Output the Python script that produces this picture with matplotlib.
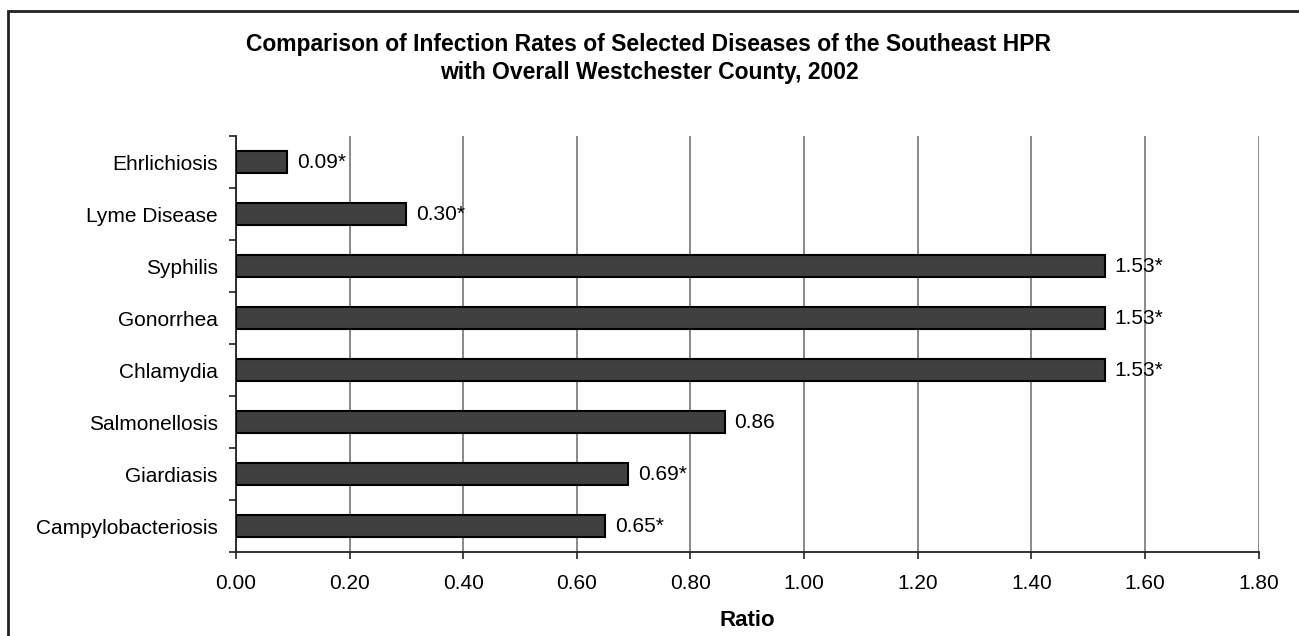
import matplotlib
matplotlib.use("Agg")
import matplotlib.pyplot as plt
from matplotlib.patches import Rectangle

plt.rcParams['font.family'] = ['Liberation Sans', 'DejaVu Sans']

# data, bottom to top
diseases = ["Campylobacteriosis", "Giardiasis", "Salmonellosis", "Chlamydia",
            "Gonorrhea", "Syphilis", "Lyme Disease", "Ehrlichiosis"]
ratios = [0.65, 0.69, 0.86, 1.53, 1.53, 1.53, 0.30, 0.09]
labels = ["0.65*", "0.69*", "0.86", "1.53*", "1.53*", "1.53*", "0.30*", "0.09*"]
xticks = [0.0, 0.2, 0.4, 0.6, 0.8, 1.0, 1.2, 1.4, 1.6, 1.8]

W, H = 1299, 636
fig = plt.figure(figsize=(W / 100, H / 100), dpi=100)
ax = fig.add_axes([236 / W, 1 - 552 / H, (1258.5 - 236) / W, (552 - 136) / H])

ypos = list(range(len(diseases)))
ax.barh(ypos, ratios, height=0.42, color="#404040", edgecolor="black",
        linewidth=1.5, zorder=3)

for y, v, lab in zip(ypos, ratios, labels):
    ax.annotate(lab, (v, y), xytext=(7, 0), textcoords="offset points",
                ha="left", va="center", fontsize=15, zorder=4)

ax.set_xlim(0, 1.8)
ax.set_ylim(-0.5, len(diseases) - 0.5)
ax.set_xticks(xticks)
ax.set_xticklabels([f"{t:.2f}" for t in xticks], fontsize=15)
ax.set_yticks(ypos)
ax.set_yticklabels(diseases, fontsize=15)
ax.set_yticks([y - 0.5 for y in range(len(diseases) + 1)], minor=True)
ax.tick_params(axis="y", which="major", length=0, pad=13)
ax.tick_params(axis="y", which="minor", length=5, width=1.2, color="#222222")
ax.tick_params(axis="x", which="major", length=5, width=1.2, color="#222222", pad=11)

ax.grid(axis="x", color="#808080", linewidth=1.3, zorder=0)
ax.set_axisbelow(True)
for s in ["top", "right"]:
    ax.spines[s].set_visible(False)
for s in ["left", "bottom"]:
    ax.spines[s].set_color("#222222")
    ax.spines[s].set_linewidth(1.3)

fig.text((236 + 1258.5) / 2 / W, 1 - 621 / H, "Ratio", ha="center", va="center",
         fontsize=16, fontweight="bold")

fig.text(649 / W, 1 - 45 / H, "Comparison of Infection Rates of Selected Diseases of the Southeast HPR",
         ha="center", va="center", fontsize=16.5, fontweight="bold")
fig.text(649 / W, 1 - 73 / H, "with Overall Westchester County, 2002",
         ha="center", va="center", fontsize=16.5, fontweight="bold")

# outer frame
fig.patches.append(Rectangle((8 / W, -0.1), 1.2, 1 - 11 / H + 0.1,
                             transform=fig.transFigure, fill=False,
                             edgecolor="#222222", linewidth=2))

fig.savefig("out.png", dpi=100)
